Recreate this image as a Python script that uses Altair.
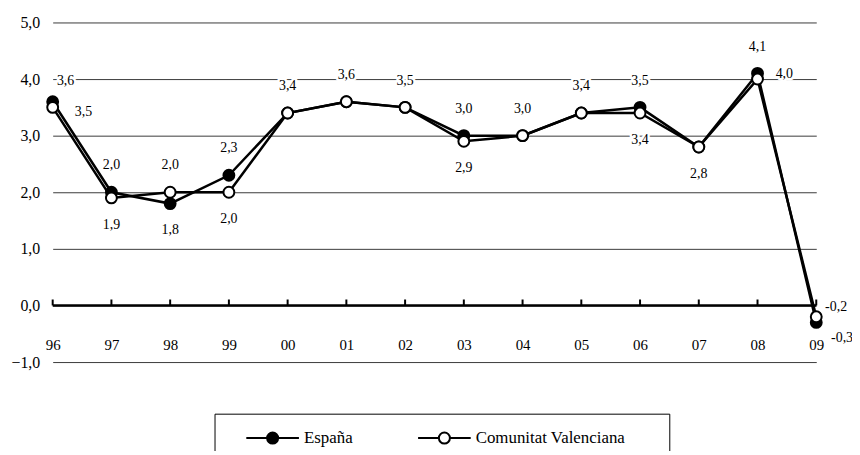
import altair as alt
import pandas as pd

# ---------------- data ----------------
years = ["96", "97", "98", "99", "00", "01", "02", "03", "04", "05", "06", "07", "08", "09"]
espana = [3.6, 2.0, 1.8, 2.3, 3.4, 3.6, 3.5, 3.0, 3.0, 3.4, 3.5, 2.8, 4.1, -0.3]
valenciana = [3.5, 1.9, 2.0, 2.0, 3.4, 3.6, 3.5, 2.9, 3.0, 3.4, 3.4, 2.8, 4.0, -0.2]
series_names = ["España", "Comunitat Valenciana"]
y_ticks = [-1, 0, 1, 2, 3, 4, 5]

# where each value label sits relative to its point ("none" = not shown)
espana_label_place = ["above_right", "above", "below", "above", "above", "above", "above",
                      "above", "above", "above", "above", "below", "above", "end_down"]
valenciana_label_place = ["right", "below", "above", "below", "none", "none", "none",
                          "below", "none", "none", "below", "none", "right_up", "end_up"]

# ---------------- styling ----------------
FONT = "Times New Roman, Liberation Serif, serif"
LABEL_OFFSETS = {
    "above": (0, -27),
    "below": (0, 27),
    "above_right": (13, -21),
    "right": (31, 5),
    "right_up": (27, -5),
    "end_up": (20, -10),
    "end_down": (26, 16),
}
PLOT_W, PLOT_H = 769, 342

# legend symbol: line with a circle in its middle (unit box -1..1)
r, k = 0.21, 0.116
LEGEND_SYMBOL = (
    "M-1,0L-0.2,0M0.2,0L1,0"
    f"M{r},0C{r},{k} {k},{r} 0,{r}C{-k},{r} {-r},{k} {-r},0"
    f"C{-r},{-k} {-k},{-r} 0,{-r}C{k},{-r} {r},{-k} {r},0Z"
)


def fmt(v):
    return f"{v:.1f}".replace(".", ",")


rows = []
for i, yr in enumerate(years):
    for name, vals, places in ((series_names[0], espana, espana_label_place),
                               (series_names[1], valenciana, valenciana_label_place)):
        rows.append({"year": yr, "idx": i, "series": name, "value": vals[i],
                     "place": places[i], "label": fmt(vals[i])})
df = pd.DataFrame(rows)
labels_df = df[df["place"] != "none"]

x_enc = alt.X(
    "year:N",
    sort=years,
    scale=alt.Scale(type="point", domain=years, padding=0),
    axis=alt.Axis(
        title=None, orient="bottom", offset=-25, domain=False, ticks=False, tickSize=0,
        labelPadding=0, labelAngle=0, labelFont=FONT, labelFontSize=15, labelColor="black",
        grid=False,
    ),
)
y_enc = alt.Y(
    "value:Q",
    scale=alt.Scale(domain=[y_ticks[0], y_ticks[-1]], nice=False, zero=False),
    axis=alt.Axis(
        title=None, values=y_ticks, domain=False, ticks=False, labelPadding=13,
        labelFont=FONT, labelFontSize=16, labelColor="black",
        labelExpr="replace(format(datum.value, '.1f'), '.', ',')",
        grid=True, gridColor="#3a3a3a", gridWidth=1,
    ),
)

base = alt.Chart(df)

lines = base.mark_line(color="black", strokeWidth=2.5).encode(
    x=x_enc, y=y_enc, detail="series:N", order=alt.Order("idx:Q", sort="ascending")
)

zero_line = alt.Chart(pd.DataFrame({"value": [0]})).mark_rule(
    color="black", strokeWidth=2.5
).encode(y=y_enc)

zero_ticks = alt.Chart(pd.DataFrame({"year": years, "value": [0] * len(years)})).mark_tick(
    orient="vertical", size=6, thickness=2, yOffset=-3, color="black", opacity=1
).encode(x=x_enc, y=y_enc)

points = base.mark_point(
    filled=True, size=120, stroke="black", strokeWidth=2, opacity=1
).encode(
    x=x_enc,
    y=y_enc,
    fill=alt.Fill(
        "series:N",
        sort=series_names,
        scale=alt.Scale(domain=series_names, range=["black", "white"]),
        legend=alt.Legend(
            title=" ", titleOrient="right", titleFontSize=1, titlePadding=30,
            orient="none", legendX=163, legendY=394, direction="horizontal", columns=2,
            symbolType=LEGEND_SYMBOL, symbolSize=2809, symbolStrokeWidth=2,
            symbolStrokeColor="black", symbolOffset=17, clipHeight=21,
            labelFont=FONT, labelFontSize=17, labelColor="black", labelOffset=4,
            columnPadding=47, padding=14, strokeColor="black", fillColor="white",
        ),
    ),
)

text_layers = []
for place, (dx, dy) in LABEL_OFFSETS.items():
    sub = alt.Chart(labels_df).transform_filter(alt.datum.place == place)
    halo = sub.mark_text(
        dx=dx, dy=dy, font=FONT, fontSize=14, color="white", stroke="white",
        strokeWidth=5, strokeJoin="round", baseline="middle", align="center"
    ).encode(x=x_enc, y=y_enc, text="label:N")
    txt = sub.mark_text(
        dx=dx, dy=dy, font=FONT, fontSize=14, color="black",
        baseline="middle", align="center"
    ).encode(x=x_enc, y=y_enc, text="label:N")
    text_layers += [halo, txt]

chart = alt.layer(
    *text_layers[0::2], *text_layers[1::2], zero_line, zero_ticks, lines, points
).properties(
    width=PLOT_W,
    height=PLOT_H,
    autosize="none",
    padding={"left": 45, "top": 13, "right": 36, "bottom": 88},
).configure_view(stroke=None)

chart.save("out.html", embed_options={"renderer": "svg", "actions": False})
